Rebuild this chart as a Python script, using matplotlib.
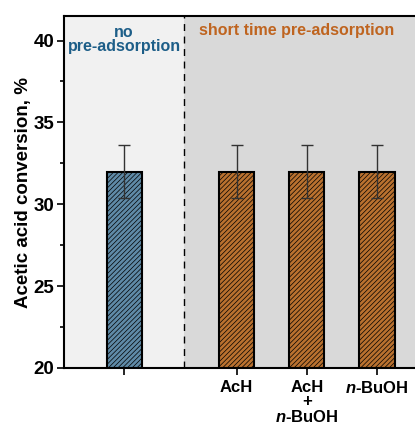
import matplotlib
matplotlib.use("Agg")
import matplotlib.pyplot as plt
from matplotlib.ticker import MultipleLocator

plt.rcParams['font.family'] = ['Liberation Sans', 'DejaVu Sans']
plt.rcParams['font.weight'] = 'bold'
plt.rcParams['mathtext.fontset'] = 'custom'
plt.rcParams['mathtext.rm'] = 'Liberation Sans:bold'
plt.rcParams['mathtext.bf'] = 'Liberation Sans:bold'
plt.rcParams['mathtext.it'] = 'Liberation Sans:italic:bold'
plt.rcParams['hatch.linewidth'] = 0.5
plt.rcParams['hatch.color'] = '#222222'

categories = ["", "AcH", "AcH\n+\n$\\mathit{n}$-BuOH", "$\\mathit{n}$-BuOH"]
positions = [0, 1.6, 2.6, 3.6]
values = [32.0, 32.0, 32.0, 32.0]
errors = [1.6, 1.6, 1.6, 1.6]
colors = ["#5f8aa7", "#b9712f", "#b9712f", "#b9712f"]
group_labels = ["no\npre-adsorption", "short time pre-adsorption"]
group_colors = ["#1d5e88", "#bf641f"]

fig = plt.figure(figsize=(4.15, 4.28), dpi=100)
ax = fig.add_axes([64/415, 1 - 368/428, 1 - 64/415 + 0.01, (368 - 16)/428])

xmin, xmax, xsplit = -0.857, 4.20, 0.857
ax.axvspan(xmin, xsplit, color="#f1f1f1", zorder=0, lw=0)
ax.axvspan(xsplit, xmax, color="#d9d9d9", zorder=0, lw=0)
ax.axvline(xsplit, color="black", ls=(0, (5, 4)), lw=1, zorder=1)

ax.bar(positions, [v - 20 for v in values], bottom=20, width=0.5, color=colors,
       edgecolor="black", linewidth=1.5, hatch="///////", zorder=2)
ax.errorbar(positions, values, yerr=errors, fmt="none", ecolor="#333333",
            elinewidth=1, capsize=4, capthick=1, zorder=3)

ax.set_xlim(xmin, xmax)
ax.set_ylim(20, 41.5)
ax.yaxis.set_major_locator(MultipleLocator(5))
ax.yaxis.set_minor_locator(MultipleLocator(2.5))
ax.set_xticks(positions)
ax.set_xticklabels(categories, fontsize=12, fontweight="bold", linespacing=0.95)
ax.tick_params(axis="y", labelsize=13.5, width=1.2, length=5, pad=2)
ax.tick_params(axis="y", which="minor", width=1.2, length=3)
ax.tick_params(axis="x", width=1.2, length=5)
for lbl in ax.get_yticklabels():
    lbl.set_fontweight("bold")
ax.set_ylabel("Acetic acid conversion, %", fontsize=13.5, fontweight="bold", labelpad=1)
for s in ax.spines.values():
    s.set_linewidth(1.5)

ax.text(0, 40.05, group_labels[0], ha="center", va="center", color=group_colors[0],
        fontsize=11.5, fontweight="bold", linespacing=0.95, zorder=4)
ax.text(2.46, 40.6, group_labels[1], ha="center", va="center", color=group_colors[1],
        fontsize=11.5, fontweight="bold", zorder=4)

fig.savefig("out.png", dpi=100)
